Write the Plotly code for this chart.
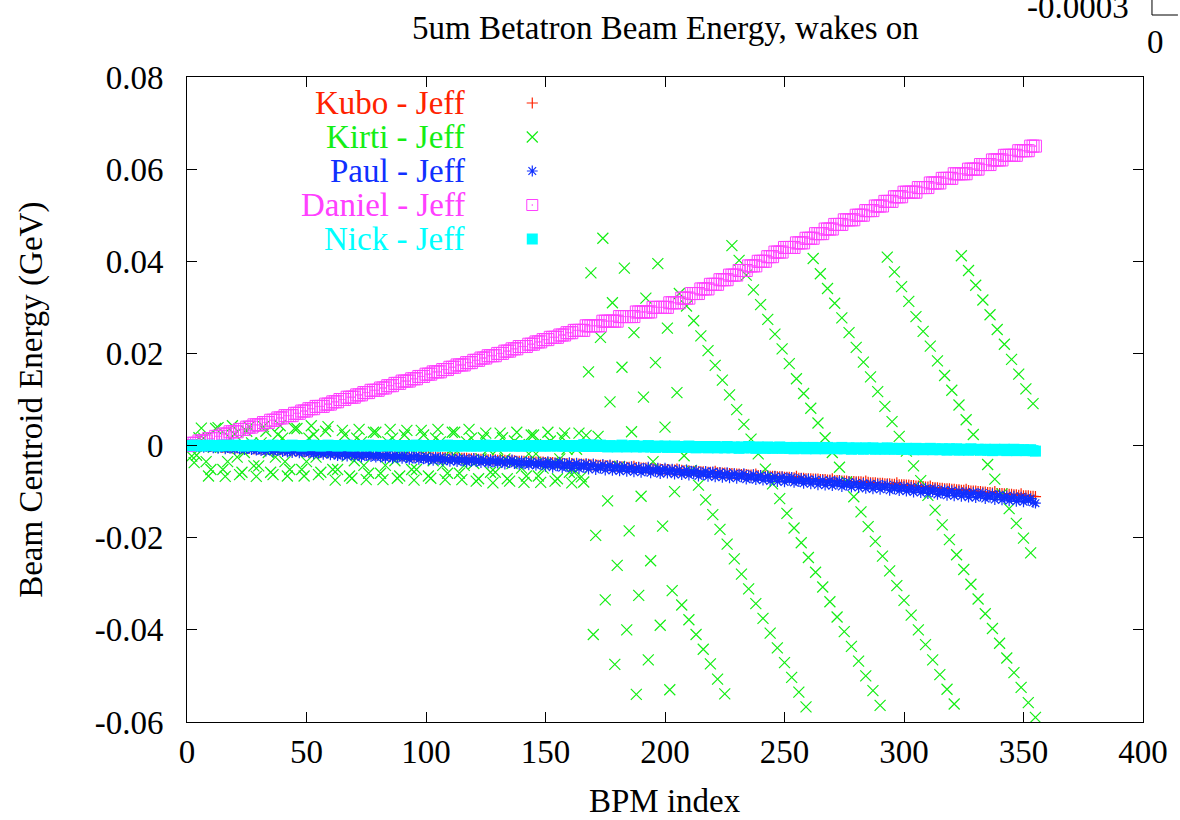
import plotly.graph_objects as go

# ---------------- data ----------------
bpm_index = list(range(356))

kubo_jeff = [
    0.0, 0.0, -0.0001, -0.0001, -0.0001, -0.0001, -0.0002, -0.0002, -0.0002, -0.0002,
    -0.0002, -0.0003, -0.0003, -0.0003, -0.0003, -0.0004, -0.0004, -0.0004, -0.0004, -0.0005,
    -0.0005, -0.0005, -0.0005, -0.0006, -0.0006, -0.0006, -0.0006, -0.0006, -0.0007, -0.0007,
    -0.0007, -0.0007, -0.0008, -0.0008, -0.0008, -0.0008, -0.0009, -0.0009, -0.0009, -0.0009,
    -0.0010, -0.0010, -0.0010, -0.0010, -0.0011, -0.0011, -0.0011, -0.0011, -0.0012, -0.0012,
    -0.0012, -0.0012, -0.0012, -0.0013, -0.0013, -0.0013, -0.0013, -0.0014, -0.0014, -0.0014,
    -0.0014, -0.0015, -0.0015, -0.0015, -0.0015, -0.0016, -0.0016, -0.0016, -0.0016, -0.0017,
    -0.0017, -0.0017, -0.0017, -0.0018, -0.0018, -0.0018, -0.0018, -0.0018, -0.0019, -0.0019,
    -0.0019, -0.0019, -0.0020, -0.0020, -0.0020, -0.0020, -0.0021, -0.0021, -0.0021, -0.0021,
    -0.0022, -0.0022, -0.0022, -0.0022, -0.0023, -0.0023, -0.0023, -0.0023, -0.0024, -0.0024,
    -0.0024, -0.0024, -0.0025, -0.0025, -0.0025, -0.0025, -0.0026, -0.0026, -0.0026, -0.0026,
    -0.0027, -0.0027, -0.0027, -0.0027, -0.0028, -0.0028, -0.0028, -0.0028, -0.0029, -0.0029,
    -0.0029, -0.0029, -0.0030, -0.0030, -0.0030, -0.0030, -0.0031, -0.0031, -0.0031, -0.0031,
    -0.0032, -0.0032, -0.0032, -0.0032, -0.0033, -0.0033, -0.0033, -0.0033, -0.0034, -0.0034,
    -0.0034, -0.0034, -0.0035, -0.0035, -0.0035, -0.0035, -0.0036, -0.0036, -0.0036, -0.0036,
    -0.0037, -0.0037, -0.0037, -0.0037, -0.0038, -0.0038, -0.0038, -0.0038, -0.0039, -0.0039,
    -0.0039, -0.0039, -0.0040, -0.0040, -0.0040, -0.0040, -0.0041, -0.0041, -0.0041, -0.0042,
    -0.0042, -0.0042, -0.0043, -0.0043, -0.0043, -0.0044, -0.0044, -0.0044, -0.0045, -0.0045,
    -0.0045, -0.0046, -0.0046, -0.0046, -0.0047, -0.0047, -0.0047, -0.0045, -0.0048, -0.0048,
    -0.0049, -0.0049, -0.0049, -0.0050, -0.0050, -0.0050, -0.0051, -0.0051, -0.0051, -0.0052,
    -0.0052, -0.0052, -0.0053, -0.0053, -0.0053, -0.0051, -0.0054, -0.0054, -0.0055, -0.0055,
    -0.0055, -0.0056, -0.0056, -0.0056, -0.0057, -0.0057, -0.0057, -0.0058, -0.0058, -0.0058,
    -0.0059, -0.0056, -0.0059, -0.0060, -0.0060, -0.0060, -0.0061, -0.0061, -0.0061, -0.0062,
    -0.0062, -0.0062, -0.0063, -0.0063, -0.0063, -0.0064, -0.0064, -0.0064, -0.0062, -0.0065,
    -0.0065, -0.0066, -0.0066, -0.0066, -0.0067, -0.0067, -0.0067, -0.0068, -0.0068, -0.0068,
    -0.0069, -0.0069, -0.0069, -0.0070, -0.0070, -0.0067, -0.0071, -0.0071, -0.0071, -0.0072,
    -0.0072, -0.0072, -0.0073, -0.0073, -0.0073, -0.0074, -0.0074, -0.0074, -0.0075, -0.0075,
    -0.0072, -0.0076, -0.0076, -0.0076, -0.0077, -0.0077, -0.0077, -0.0078, -0.0078, -0.0078,
    -0.0079, -0.0079, -0.0079, -0.0080, -0.0077, -0.0080, -0.0081, -0.0081, -0.0081, -0.0082,
    -0.0082, -0.0082, -0.0083, -0.0083, -0.0083, -0.0084, -0.0084, -0.0081, -0.0085, -0.0085,
    -0.0085, -0.0086, -0.0086, -0.0087, -0.0087, -0.0088, -0.0088, -0.0089, -0.0089, -0.0090,
    -0.0090, -0.0088, -0.0091, -0.0092, -0.0092, -0.0093, -0.0093, -0.0094, -0.0094, -0.0094,
    -0.0095, -0.0095, -0.0096, -0.0096, -0.0097, -0.0097, -0.0095, -0.0098, -0.0099, -0.0099,
    -0.0099, -0.0100, -0.0100, -0.0101, -0.0101, -0.0102, -0.0102, -0.0103, -0.0100, -0.0104,
    -0.0104, -0.0104, -0.0105, -0.0105, -0.0106, -0.0106, -0.0107, -0.0107, -0.0108, -0.0105,
    -0.0109, -0.0109, -0.0109, -0.0110, -0.0110, -0.0111,
]

kirti_jeff = [
    0.0, -0.0003, -0.0023, -0.0037, -0.0021, 0.0017, 0.0038, 0.0016, -0.0035, -0.0066,
    -0.0052, -0.0004, 0.0037, 0.0039, -0.0004, -0.0052, -0.0067, -0.0035, 0.0016, 0.0043,
    0.0024, -0.0025, -0.0063, -0.0058, -0.0015, 0.0031, 0.0041, 0.0006, -0.0044, -0.0067,
    -0.0044, 0.0006, 0.0041, 0.0031, -0.0015, -0.0058, -0.0063, -0.0025, 0.0024, 0.0043,
    0.0016, -0.0035, -0.0066, -0.0052, -0.0004, 0.0037, 0.0037, -0.0004, -0.0052, -0.0066,
    -0.0035, 0.0016, 0.0043, 0.0024, -0.0025, -0.0063, -0.0058, -0.0015, 0.0031, 0.0041,
    -0.0002, -0.0052, -0.0075, -0.0052, -0.0002, 0.0033, 0.0023, -0.0023, -0.0066, -0.0071,
    -0.0033, 0.0016, 0.0035, 0.0008, -0.0043, -0.0074, -0.0060, -0.0012, 0.0029, 0.0029,
    -0.0012, -0.0060, -0.0074, -0.0043, 0.0008, 0.0035, 0.0016, -0.0033, -0.0071, -0.0066,
    -0.0023, 0.0023, 0.0033, -0.0002, -0.0052, -0.0075, -0.0052, -0.0002, 0.0033, 0.0023,
    -0.0023, -0.0066, -0.0071, -0.0033, 0.0016, 0.0035, 0.0008, -0.0043, -0.0074, -0.0060,
    -0.0012, 0.0029, 0.0029, -0.0012, -0.0060, -0.0074, -0.0043, 0.0008, 0.0035, 0.0016,
    -0.0039, -0.0077, -0.0072, -0.0029, 0.0017, 0.0027, -0.0008, -0.0058, -0.0081, -0.0058,
    -0.0008, 0.0027, 0.0017, -0.0029, -0.0072, -0.0077, -0.0039, 0.0010, 0.0029, 0.0002,
    -0.0049, -0.0080, -0.0066, -0.0018, 0.0023, 0.0023, -0.0018, -0.0066, -0.0080, -0.0049,
    0.0002, 0.0029, 0.0010, -0.0039, -0.0077, -0.0072, -0.0029, 0.0017, 0.0027, -0.0008,
    -0.0058, -0.0081, -0.0058, -0.0008, 0.0027, -0.0068, -0.0079, 0.0022, 0.0160, 0.0375,
    -0.0410, -0.0195, 0.0020, 0.0235, 0.0450, -0.0335, -0.0120, 0.0095, 0.0310, -0.0475,
    -0.0260, -0.0045, 0.0170, 0.0385, -0.0400, -0.0185, 0.0030, 0.0245, -0.0540, -0.0325,
    -0.0110, 0.0105, 0.0320, -0.0465, -0.0250, -0.0035, 0.0180, 0.0395, -0.0390, -0.0175,
    0.0040, 0.0255, -0.0530, -0.0315, -0.0100, 0.0115, 0.0330, -0.0346, -0.0022, 0.0303,
    -0.0378, -0.0054, 0.0271, -0.0410, -0.0086, 0.0238, -0.0442, -0.0118, 0.0206, -0.0474,
    -0.0150, 0.0174, -0.0507, -0.0182, 0.0142, -0.0539, -0.0214, 0.0110, 0.0434, -0.0246,
    0.0078, 0.0402, -0.0279, 0.0046, 0.0370, -0.0311, 0.0014, 0.0338, -0.0343, -0.0018,
    0.0306, -0.0375, -0.0051, 0.0274, -0.0407, -0.0083, 0.0242, -0.0439, -0.0115, 0.0210,
    -0.0471, -0.0147, 0.0178, -0.0503, -0.0179, 0.0145, -0.0535, -0.0211, 0.0113, -0.0567,
    -0.0243, 0.0081, 0.0406, -0.0275, 0.0049, 0.0373, -0.0307, 0.0017, 0.0341, -0.0339,
    -0.0015, 0.0309, -0.0372, -0.0047, 0.0277, -0.0404, -0.0079, 0.0245, -0.0436, -0.0111,
    0.0213, -0.0468, -0.0144, 0.0181, -0.0500, -0.0176, 0.0149, -0.0532, -0.0208, 0.0117,
    -0.0564, -0.0240, 0.0085, 0.0409, -0.0272, 0.0052, 0.0377, -0.0304, 0.0020, 0.0345,
    -0.0336, -0.0012, 0.0313, -0.0368, -0.0044, 0.0280, -0.0400, -0.0076, 0.0248, -0.0432,
    -0.0108, 0.0216, -0.0465, -0.0140, 0.0184, -0.0497, -0.0172, 0.0152, -0.0529, -0.0204,
    0.0120, -0.0561, -0.0237, 0.0088, 0.0412, -0.0269, 0.0056, 0.0380, -0.0301, 0.0024,
    0.0348, -0.0333, -0.0009, 0.0316, -0.0365, -0.0041, 0.0284, -0.0397, -0.0073, 0.0252,
    -0.0429, -0.0105, 0.0220, -0.0461, -0.0137, 0.0187, -0.0493, -0.0169, 0.0155, -0.0525,
    -0.0201, 0.0123, -0.0558, -0.0233, 0.0091, -0.0590,
]

paul_jeff = [
    0.0000, -0.0001, 0.0001, -0.0002, -0.0001, -0.0003, 0.0000, -0.0004, -0.0001, -0.0003,
    -0.0001, -0.0005, -0.0002, -0.0006, -0.0003, -0.0001, -0.0007, -0.0004, -0.0006, -0.0003,
    -0.0008, -0.0004, -0.0007, -0.0003, -0.0009, -0.0006, -0.0005, -0.0009, -0.0004, -0.0010,
    -0.0007, -0.0011, -0.0006, -0.0012, -0.0009, -0.0006, -0.0013, -0.0008, -0.0011, -0.0007,
    -0.0013, -0.0009, -0.0014, -0.0010, -0.0015, -0.0011, -0.0009, -0.0016, -0.0012, -0.0014,
    -0.0011, -0.0016, -0.0013, -0.0018, -0.0012, -0.0017, -0.0014, -0.0019, -0.0013, -0.0016,
    -0.0020, -0.0013, -0.0018, -0.0022, -0.0015, -0.0021, -0.0016, -0.0023, -0.0014, -0.0019,
    -0.0023, -0.0016, -0.0021, -0.0025, -0.0018, -0.0022, -0.0017, -0.0024, -0.0020, -0.0025,
    -0.0018, -0.0025, -0.0021, -0.0027, -0.0019, -0.0024, -0.0028, -0.0020, -0.0026, -0.0022,
    -0.0028, -0.0021, -0.0026, -0.0030, -0.0023, -0.0027, -0.0022, -0.0030, -0.0025, -0.0029,
    -0.0024, -0.0031, -0.0027, -0.0032, -0.0025, -0.0030, -0.0026, -0.0033, -0.0028, -0.0031,
    -0.0034, -0.0027, -0.0031, -0.0035, -0.0028, -0.0033, -0.0029, -0.0036, -0.0030, -0.0034,
    -0.0028, -0.0035, -0.0031, -0.0037, -0.0030, -0.0034, -0.0038, -0.0031, -0.0036, -0.0032,
    -0.0038, -0.0032, -0.0036, -0.0040, -0.0033, -0.0037, -0.0031, -0.0039, -0.0035, -0.0041,
    -0.0034, -0.0040, -0.0036, -0.0042, -0.0035, -0.0039, -0.0043, -0.0036, -0.0041, -0.0037,
    -0.0045, -0.0035, -0.0041, -0.0047, -0.0038, -0.0044, -0.0036, -0.0048, -0.0040, -0.0046,
    -0.0037, -0.0049, -0.0043, -0.0038, -0.0050, -0.0041, -0.0047, -0.0039, -0.0051, -0.0044,
    -0.0040, -0.0052, -0.0045, -0.0049, -0.0041, -0.0053, -0.0046, -0.0042, -0.0054, -0.0048,
    -0.0043, -0.0055, -0.0049, -0.0045, -0.0056, -0.0050, -0.0046, -0.0057, -0.0051, -0.0047,
    -0.0058, -0.0050, -0.0055, -0.0047, -0.0059, -0.0052, -0.0056, -0.0049, -0.0061, -0.0054,
    -0.0049, -0.0060, -0.0055, -0.0051, -0.0062, -0.0056, -0.0052, -0.0063, -0.0058, -0.0053,
    -0.0064, -0.0056, -0.0061, -0.0054, -0.0066, -0.0059, -0.0063, -0.0056, -0.0067, -0.0060,
    -0.0057, -0.0068, -0.0062, -0.0058, -0.0069, -0.0063, -0.0059, -0.0070, -0.0065, -0.0061,
    -0.0071, -0.0063, -0.0068, -0.0061, -0.0073, -0.0066, -0.0070, -0.0063, -0.0074, -0.0068,
    -0.0065, -0.0075, -0.0069, -0.0066, -0.0077, -0.0071, -0.0067, -0.0078, -0.0072, -0.0068,
    -0.0079, -0.0070, -0.0075, -0.0069, -0.0080, -0.0074, -0.0078, -0.0071, -0.0082, -0.0076,
    -0.0073, -0.0083, -0.0078, -0.0074, -0.0085, -0.0079, -0.0075, -0.0086, -0.0080, -0.0076,
    -0.0087, -0.0078, -0.0083, -0.0077, -0.0089, -0.0082, -0.0086, -0.0079, -0.0090, -0.0084,
    -0.0081, -0.0091, -0.0086, -0.0082, -0.0093, -0.0087, -0.0083, -0.0094, -0.0088, -0.0084,
    -0.0095, -0.0086, -0.0091, -0.0085, -0.0097, -0.0090, -0.0094, -0.0087, -0.0098, -0.0092,
    -0.0089, -0.0099, -0.0094, -0.0090, -0.0101, -0.0095, -0.0091, -0.0102, -0.0097, -0.0093,
    -0.0104, -0.0095, -0.0100, -0.0094, -0.0106, -0.0099, -0.0103, -0.0096, -0.0108, -0.0101,
    -0.0098, -0.0109, -0.0104, -0.0099, -0.0110, -0.0105, -0.0101, -0.0112, -0.0106, -0.0102,
    -0.0113, -0.0104, -0.0109, -0.0103, -0.0115, -0.0108, -0.0112, -0.0105, -0.0117, -0.0110,
    -0.0107, -0.0118, -0.0113, -0.0109, -0.0120, -0.0114, -0.0110, -0.0121, -0.0116, -0.0112,
    -0.0122, -0.0114, -0.0119, -0.0115, -0.0123, -0.0125,
]

daniel_jeff = [
    0.0, 0.0, 0.0005, 0.0005, 0.0005, 0.001, 0.001, 0.001, 0.001, 0.0015,
    0.0015, 0.0015, 0.002, 0.002, 0.002, 0.0025, 0.0025, 0.0025, 0.003, 0.003,
    0.003, 0.003, 0.0035, 0.0035, 0.0035, 0.004, 0.004, 0.004, 0.0045, 0.0045,
    0.0045, 0.0045, 0.005, 0.005, 0.005, 0.0055, 0.0055, 0.0055, 0.006, 0.006,
    0.006, 0.0065, 0.0065, 0.0065, 0.0065, 0.007, 0.007, 0.007, 0.0075, 0.0075,
    0.0075, 0.008, 0.008, 0.008, 0.0085, 0.0085, 0.0085, 0.0085, 0.009, 0.009,
    0.009, 0.0095, 0.0095, 0.0095, 0.01, 0.01, 0.01, 0.0105, 0.0105, 0.0105,
    0.0105, 0.011, 0.011, 0.011, 0.0115, 0.0115, 0.0115, 0.012, 0.012, 0.012,
    0.012, 0.0125, 0.0125, 0.0125, 0.013, 0.013, 0.013, 0.0135, 0.0135, 0.0135,
    0.014, 0.014, 0.014, 0.014, 0.0145, 0.0145, 0.0145, 0.015, 0.015, 0.015,
    0.0155, 0.0155, 0.0155, 0.016, 0.016, 0.016, 0.016, 0.0165, 0.0165, 0.0165,
    0.017, 0.017, 0.017, 0.0175, 0.0175, 0.0175, 0.0175, 0.018, 0.018, 0.018,
    0.0185, 0.0185, 0.0185, 0.019, 0.019, 0.019, 0.0195, 0.0195, 0.0195, 0.0195,
    0.02, 0.02, 0.02, 0.0205, 0.0205, 0.0205, 0.021, 0.021, 0.021, 0.0215,
    0.0215, 0.0215, 0.0215, 0.022, 0.022, 0.022, 0.0225, 0.0225, 0.0225, 0.023,
    0.023, 0.023, 0.0235, 0.0235, 0.0235, 0.0235, 0.024, 0.024, 0.024, 0.0245,
    0.0245, 0.0245, 0.025, 0.025, 0.025, 0.025, 0.025, 0.026, 0.026, 0.026,
    0.026, 0.026, 0.026, 0.026, 0.027, 0.027, 0.027, 0.027, 0.027, 0.027,
    0.027, 0.028, 0.028, 0.028, 0.028, 0.028, 0.028, 0.028, 0.029, 0.029,
    0.029, 0.029, 0.029, 0.029, 0.029, 0.030, 0.030, 0.030, 0.030, 0.030,
    0.030, 0.030, 0.031, 0.031, 0.031, 0.031, 0.031, 0.032, 0.032, 0.032,
    0.032, 0.033, 0.033, 0.033, 0.033, 0.034, 0.034, 0.034, 0.034, 0.035,
    0.035, 0.035, 0.035, 0.036, 0.036, 0.036, 0.036, 0.037, 0.037, 0.037,
    0.037, 0.038, 0.038, 0.038, 0.038, 0.039, 0.039, 0.039, 0.039, 0.040,
    0.040, 0.040, 0.040, 0.041, 0.041, 0.041, 0.042, 0.042, 0.042, 0.042,
    0.043, 0.043, 0.043, 0.043, 0.043, 0.044, 0.044, 0.044, 0.044, 0.045,
    0.045, 0.045, 0.045, 0.046, 0.046, 0.046, 0.046, 0.047, 0.047, 0.047,
    0.047, 0.048, 0.048, 0.048, 0.048, 0.049, 0.049, 0.049, 0.049, 0.049,
    0.050, 0.050, 0.050, 0.050, 0.051, 0.051, 0.051, 0.051, 0.052, 0.052,
    0.052, 0.052, 0.053, 0.053, 0.053, 0.053, 0.054, 0.054, 0.054, 0.054,
    0.055, 0.055, 0.055, 0.055, 0.055, 0.055, 0.056, 0.056, 0.056, 0.056,
    0.056, 0.057, 0.057, 0.057, 0.057, 0.057, 0.058, 0.058, 0.058, 0.058,
    0.058, 0.059, 0.059, 0.059, 0.059, 0.059, 0.059, 0.060, 0.060, 0.060,
    0.060, 0.060, 0.061, 0.061, 0.061, 0.061, 0.061, 0.062, 0.062, 0.062,
    0.062, 0.062, 0.063, 0.063, 0.063, 0.063, 0.063, 0.063, 0.064, 0.064,
    0.064, 0.064, 0.064, 0.065, 0.065, 0.065,
]

nick_jeff = [
    0.0, 0.0, 0.0, 0.0001, 0.0, 0.0, -0.0001, 0.0, 0.0, 0.0001,
    0.0, 0.0, 0.0, -0.0001, 0.0, 0.0001, 0.0, 0.0, 0.0, 0.0,
    0.0001, 0.0, 0.0, 0.0, -0.0001, 0.0, 0.0, 0.0001, 0.0, 0.0,
    0.0, 0.0, -0.0001, 0.0, 0.0, 0.0, 0.0001, 0.0, 0.0, 0.0,
    0.0, -0.0001, 0.0, 0.0, 0.0001, 0.0, 0.0, 0.0, -0.0001, 0.0,
    0.0, 0.0, 0.0001, 0.0, 0.0, 0.0, -0.0001, 0.0, 0.0, 0.0001,
    0.0, 0.0, 0.0, -0.0001, 0.0, 0.0, 0.0, 0.0001, 0.0, -0.0001,
    0.0, 0.0, 0.0, 0.0, -0.0001, 0.0, 0.0001, 0.0, 0.0, -0.0001,
    0.0, 0.0, -0.0001, 0.0, 0.0, 0.0001, 0.0, -0.0001, 0.0, 0.0,
    -0.0001, 0.0, 0.0, 0.0, -0.0001, 0.0, 0.0001, 0.0, -0.0001, 0.0,
    0.0, -0.0001, 0.0, 0.0, -0.0001, 0.0, 0.0, -0.0001, 0.0, 0.0001,
    0.0, -0.0001, 0.0, -0.0001, 0.0, 0.0, -0.0001, 0.0, 0.0, -0.0001,
    0.0, -0.0001, 0.0, 0.0, -0.0001, 0.0001, 0.0, -0.0001, 0.0, -0.0001,
    0.0, 0.0, -0.0001, 0.0, -0.0001, 0.0, 0.0, -0.0001, 0.0, -0.0001,
    -0.0001, 0.0, 0.0, -0.0001, 0.0, -0.0001, 0.0, 0.0, -0.0001, 0.0,
    -0.0001, 0.0, -0.0001, 0.0, 0.0, -0.0001, 0.0, -0.0001, -0.0001, 0.0,
    -0.0001, 0.0, -0.0001, -0.0001, 0.0, -0.0001, 0.0002, -0.0002, 0.0001, -0.0002,
    0.0001, -0.0002, -0.0001, 0.0001, -0.0002, -0.0001, -0.0003, 0.0, -0.0002, -0.0001,
    -0.0003, -0.0001, 0.0001, -0.0002, -0.0003, -0.0001, -0.0002, 0.0, -0.0003, -0.0002,
    -0.0001, -0.0003, -0.0002, 0.0, -0.0003, -0.0002, -0.0004, -0.0001, -0.0002, -0.0003,
    -0.0001, -0.0004, -0.0002, -0.0003, -0.0001, -0.0004, -0.0003, -0.0002, -0.0004, -0.0003,
    -0.0001, -0.0004, -0.0003, -0.0005, -0.0002, -0.0003, -0.0004, -0.0002, -0.0005, -0.0003,
    -0.0004, -0.0002, -0.0005, -0.0004, -0.0003, -0.0005, -0.0002, -0.0004, -0.0005, -0.0003,
    -0.0004, -0.0006, -0.0003, -0.0005, -0.0004, -0.0002, -0.0005, -0.0004, -0.0006, -0.0003,
    -0.0005, -0.0004, -0.0006, -0.0003, -0.0005, -0.0006, -0.0004, -0.0005, -0.0003, -0.0006,
    -0.0005, -0.0004, -0.0006, -0.0005, -0.0007, -0.0004, -0.0006, -0.0005, -0.0004, -0.0007,
    -0.0005, -0.0006, -0.0004, -0.0007, -0.0005, -0.0006, -0.0005, -0.0007, -0.0004, -0.0006,
    -0.0006, -0.0005, -0.0007, -0.0006, -0.0004, -0.0007, -0.0006, -0.0005, -0.0008, -0.0006,
    -0.0005, -0.0007, -0.0006, -0.0008, -0.0005, -0.0006, -0.0007, -0.0005, -0.0008, -0.0006,
    -0.0007, -0.0006, -0.0008, -0.0005, -0.0007, -0.0006, -0.0008, -0.0007, -0.0006, -0.0008,
    -0.0007, -0.0006, -0.0008, -0.0007, -0.0009, -0.0006, -0.0008, -0.0007, -0.0009, -0.0007,
    -0.0008, -0.0006, -0.0009, -0.0007, -0.0008, -0.0009, -0.0007, -0.0008, -0.0010, -0.0007,
    -0.0008, -0.0009, -0.0007, -0.0010, -0.0008, -0.0009, -0.0008, -0.0010, -0.0007, -0.0009,
    -0.0009, -0.0008, -0.0010, -0.0009, -0.0008, -0.0010, -0.0009, -0.0011, -0.0008, -0.0009,
    -0.0010, -0.0009, -0.0008, -0.0011, -0.0009, -0.0010, -0.0008, -0.0011, -0.0009, -0.0010,
    -0.0009, -0.0011, -0.0010, -0.0009, -0.0011, -0.0012,
]

series_names = ["Kubo - Jeff", "Kirti - Jeff", "Paul - Jeff", "Daniel - Jeff", "Nick - Jeff"]
series_values = [kubo_jeff, kirti_jeff, paul_jeff, daniel_jeff, nick_jeff]

x_tick_values = [0, 50, 100, 150, 200, 250, 300, 350, 400]
y_tick_values = [-0.06, -0.04, -0.02, 0, 0.02, 0.04, 0.06, 0.08]
y_tick_labels = ["-0.06", "-0.04", "-0.02", "0", "0.02", "0.04", "0.06", "0.08"]

# ---------------- styling ----------------
FONT = "Liberation Serif, Times New Roman, serif"
FS = 33
styles = [
    dict(color="#ff2200", symbol="cross-thin-open", size=8, lw=1.2),
    dict(color="#14ee14", symbol="x-thin-open", size=11, lw=1.2),
    dict(color="#1030ff", symbol="asterisk-open", size=9, lw=1.2),
    dict(color="#ff40ff", symbol="square-open-dot", size=12, lw=1.0),
    dict(color="#00ffff", symbol="square", size=11, lw=0),
]

W, H = 1180, 820
L, R, T, B = 187, 35, 77, 98
pw, ph = W - L - R, H - T - B


def px_x(px):
    return (px - L) / pw


def px_y(py):
    return (H - B - py) / ph


fig = go.Figure()
for name, vals, st in zip(series_names, series_values, styles):
    fig.add_trace(go.Scatter(
        x=bpm_index, y=vals, mode="markers", name=name, showlegend=False,
        marker=dict(symbol=st["symbol"], size=st["size"], color=st["color"],
                    line=dict(color=st["color"], width=st["lw"])),
        cliponaxis=True,
    ))

# manual gnuplot-style key (text right-aligned, sample symbol to the right)
key_rows_px = [103, 137, 171, 205, 239]
key_text_px = 468
key_sym_px = 533
for name, st, ry in zip(series_names, styles, key_rows_px):
    fig.add_trace(go.Scatter(
        x=[px_x(key_sym_px)], y=[px_y(ry)], xaxis="x2", yaxis="y2",
        mode="markers", showlegend=False, hoverinfo="skip",
        marker=dict(symbol=st["symbol"], size=min(st["size"], 11), color=st["color"],
                    line=dict(color=st["color"], width=st["lw"])),
    ))
    fig.add_annotation(x=px_x(key_text_px), y=px_y(ry), xref="paper", yref="paper",
                       text=name, showarrow=False, xanchor="right", yanchor="middle",
                       font=dict(family=FONT, size=FS, color=st["color"]))

axis_common = dict(showgrid=False, zeroline=False, showline=True, linecolor="black",
                   linewidth=1, ticks="inside", ticklen=10, tickcolor="black",
                   mirror="ticks", tickfont=dict(family=FONT, size=FS, color="black"))

fig.update_layout(
    width=W, height=H,
    margin=dict(l=L, r=R, t=T, b=B),
    plot_bgcolor="white", paper_bgcolor="white",
    showlegend=False,
    font=dict(family=FONT, size=FS, color="black"),
    xaxis=dict(range=[0, 400], tickvals=x_tick_values,
               ticktext=[str(v) for v in x_tick_values], ticklabelstandoff=0,
               **axis_common),
    yaxis=dict(range=[-0.06, 0.08], tickvals=y_tick_values, ticktext=y_tick_labels,
               ticklabelstandoff=16, **axis_common),
    xaxis2=dict(range=[0, 1], overlaying="x", anchor="y2", visible=False),
    yaxis2=dict(range=[0, 1], overlaying="y", anchor="x2", visible=False),
)

# titles
fig.add_annotation(x=0.5, y=px_y(28), xref="paper", yref="paper",
                   text="5um Betatron Beam Energy, wakes on", showarrow=False,
                   xanchor="center", yanchor="middle",
                   font=dict(family=FONT, size=FS, color="black"))
fig.add_annotation(x=0.5, y=px_y(801), xref="paper", yref="paper",
                   text="BPM index", showarrow=False, xanchor="center", yanchor="middle",
                   font=dict(family=FONT, size=FS, color="black"))
fig.add_annotation(x=px_x(31), y=0.5, xref="paper", yref="paper",
                   text="Beam Centroid Energy (GeV)", showarrow=False, textangle=-90,
                   xanchor="center", yanchor="middle",
                   font=dict(family=FONT, size=FS, color="black"))

# remnants of an overlapping inset plot at the top right corner
fig.add_annotation(x=px_x(1080), y=px_y(7), xref="paper", yref="paper",
                   text="-0.0003", showarrow=False, xanchor="center", yanchor="middle",
                   font=dict(family=FONT, size=FS, color="black"))
fig.add_annotation(x=px_x(1158), y=px_y(42), xref="paper", yref="paper",
                   text="0", showarrow=False, xanchor="center", yanchor="middle",
                   font=dict(family=FONT, size=FS, color="black"))
fig.add_shape(type="line", xref="paper", yref="paper",
              x0=px_x(1154), y0=px_y(0), x1=px_x(1154), y1=px_y(15),
              line=dict(color="black", width=1))
fig.add_shape(type="line", xref="paper", yref="paper",
              x0=px_x(1154), y0=px_y(15), x1=px_x(1180), y1=px_y(15),
              line=dict(color="black", width=1))

fig.write_html("out.html")
